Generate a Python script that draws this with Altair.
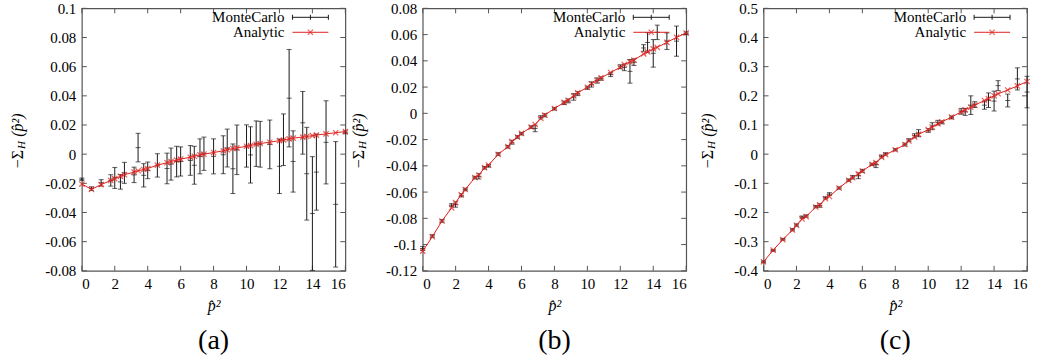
import altair as alt
import pandas as pd

# ---------------- data ----------------
P2 = [0, 0.586, 1.172, 1.757, 2.0, 2.343, 2.586, 3.172, 3.414, 3.757, 4.0,
      4.586, 5.172, 5.414, 5.757, 6.0, 6.586, 6.828, 7.172, 7.414, 8.0,
      8.586, 8.828, 9.172, 9.414, 10.0, 10.243, 10.586, 10.828, 11.414, 12.0,
      12.243, 12.586, 12.828, 13.414, 13.657, 14.0, 14.243, 14.828, 15.414, 16.0]

# panel (a)
A_AN = [-0.0205, -0.0241, -0.0209, -0.0180, -0.0168, -0.0152, -0.0141, -0.0123, -0.0114, -0.0105, -0.0098,
        -0.0075, -0.0059, -0.0050, -0.0041, -0.0034, -0.0021, -0.0014, -0.0004, 0.0000, 0.0011,
        0.0023, 0.0030, 0.0039, 0.0043, 0.0054, 0.0059, 0.0068, 0.0073, 0.0082, 0.0093,
        0.0097, 0.0105, 0.0110, 0.0117, 0.0121, 0.0127, 0.0131, 0.0139, 0.0147, 0.0155]
A_MC = [-0.0172, -0.0236, -0.0197, -0.0180, -0.0163, -0.0190, -0.0128, -0.0142, 0.0045, -0.0145, -0.0111,
        -0.0077, -0.0098, -0.0068, -0.0051, -0.0050, -0.0043, -0.0076, -0.0015, 0.0003, -0.0015,
        -0.0004, 0.0042, -0.0100, 0.0030, 0.0056, -0.0005, 0.0072, 0.0068, 0.0067, -0.0083,
        0.0099, 0.0384, -0.0050, 0.0215, -0.0134, -0.0407, -0.0123, 0.0081, -0.0344, 0.0150]
A_ER = [0.0008, 0.0012, 0.0022, 0.0039, 0.0072, 0.0050, 0.0072, 0.0053, 0.0098, 0.0080, 0.0057,
        0.0080, 0.0105, 0.0110, 0.0105, 0.0100, 0.0102, 0.0130, 0.0120, 0.0114, 0.0120,
        0.0130, 0.0130, 0.0170, 0.0170, 0.0145, 0.0193, 0.0156, 0.0157, 0.0167, 0.0187,
        0.0177, 0.0334, 0.0210, 0.0215, 0.0318, 0.0390, 0.0261, 0.0285, 0.0430, 0.0010]

# panel (b)
B_AN = [-0.105, -0.094, -0.082, -0.072, -0.068, -0.062, -0.058, -0.049, -0.047, -0.0414, -0.0394,
        -0.0313, -0.0254, -0.0216, -0.0181, -0.0153, -0.0105, -0.0085, -0.0039, -0.0014, 0.0037,
        0.0083, 0.0100, 0.0133, 0.0156, 0.0199, 0.0225, 0.0250, 0.0270, 0.0311, 0.0351,
        0.0372, 0.0392, 0.0405, 0.0453, 0.0468, 0.0491, 0.0503, 0.0541, 0.0579, 0.0612]
B_MC = [-0.103, -0.0935, -0.082, -0.070, -0.0695, -0.0625, -0.058, -0.049, -0.048, -0.0415, -0.040,
        -0.031, -0.0255, -0.022, -0.018, -0.0155, -0.0105, -0.0115, -0.003, -0.0015, 0.0035,
        0.008, 0.0095, 0.0125, 0.015, 0.0195, 0.022, 0.025, 0.0265, 0.0295, 0.0355,
        0.035, 0.032, 0.039, 0.0498, 0.054, 0.0457, 0.0617, 0.055, 0.055, 0.061]
B_ER = [0.0015, 0.001, 0.001, 0.0012, 0.002, 0.0012, 0.001, 0.001, 0.002, 0.001, 0.001,
        0.001, 0.001, 0.0015, 0.001, 0.001, 0.001, 0.0025, 0.0012, 0.0012, 0.001,
        0.0013, 0.0015, 0.0025, 0.0015, 0.0012, 0.002, 0.002, 0.0013, 0.0015, 0.0015,
        0.0025, 0.009, 0.0025, 0.0025, 0.0075, 0.0105, 0.0055, 0.0063, 0.0115, 0.001]

# panel (c)
C_AN = [-0.369, -0.329, -0.293, -0.260, -0.244, -0.222, -0.214, -0.181, -0.174, -0.153, -0.145,
        -0.116, -0.090, -0.081, -0.067, -0.058, -0.035, -0.029, -0.011, -0.002, 0.015,
        0.033, 0.045, 0.059, 0.068, 0.084, 0.093, 0.104, 0.111, 0.127, 0.145,
        0.152, 0.161, 0.168, 0.184, 0.191, 0.200, 0.207, 0.220, 0.234, 0.249]
C_MC = [-0.369, -0.330, -0.292, -0.259, -0.243, -0.216, -0.212, -0.180, -0.176, -0.150, -0.137,
        -0.116, -0.089, -0.079, -0.074, -0.057, -0.035, -0.036, -0.008, 0.001, 0.015,
        0.033, 0.048, 0.063, 0.072, 0.081, 0.096, 0.108, 0.109, 0.126, 0.147,
        0.145, 0.168, 0.170, 0.168, 0.185, 0.182, 0.235, 0.184, 0.258, 0.213]
C_ER = [0.003, 0.003, 0.003, 0.004, 0.004, 0.004, 0.004, 0.004, 0.006, 0.004, 0.005,
        0.004, 0.004, 0.006, 0.010, 0.005, 0.004, 0.010, 0.005, 0.004, 0.004,
        0.005, 0.005, 0.007, 0.012, 0.006, 0.012, 0.008, 0.005, 0.005, 0.010,
        0.012, 0.032, 0.010, 0.014, 0.025, 0.034, 0.017, 0.022, 0.038, 0.054]

X_TICKS = [0, 2, 4, 6, 8, 10, 12, 14, 16]
A_YT = [-0.08, -0.06, -0.04, -0.02, 0, 0.02, 0.04, 0.06, 0.08, 0.1]
B_YT = [-0.12, -0.1, -0.08, -0.06, -0.04, -0.02, 0, 0.02, 0.04, 0.06, 0.08]
C_YT = [-0.4, -0.3, -0.2, -0.1, 0, 0.1, 0.2, 0.3, 0.4, 0.5]

# ---------------- style ----------------
FONT = "Liberation Serif"
W, H = 264, 263
FR = "#555555"
BLK = "#1a1a1a"
RED = "#e0201c"
XSHAPE = "M-1,-1L1,1M-1,1L1,-1"
LABEL_EXPR = "replace(format(datum.value, '~g'), '\u2212', '-')"


def panel(an, mc, er, ydom, yticks, caption, tdx, extra=None):
    df = pd.DataFrame({"p2": P2, "an": an, "mc": mc,
                       "lo": [c - e for c, e in zip(mc, er)],
                       "hi": [c + e for c, e in zip(mc, er)]})
    xs = alt.Scale(domain=[0, 16], nice=False, zero=False)
    ys = alt.Scale(domain=ydom, nice=False, zero=False)
    xax = alt.Axis(values=X_TICKS, ticks=False, domain=False, grid=False,
                   labelFont=FONT, labelFontSize=15, labelColor="black", labelPadding=6,
                   title="p\u0302\u00b2", titleFont=FONT, titleFontSize=16, titleFontStyle="italic",
                   titleFontWeight="normal", titleColor="black", titlePadding=6)
    yax = alt.Axis(values=yticks, ticks=False, domain=False, grid=False,
                   labelFont=FONT, labelFontSize=15, labelColor="black", labelPadding=6,
                   labelExpr=LABEL_EXPR, title=None)
    X = alt.X("p2:Q", scale=xs, axis=xax)

    def Y(f):
        return alt.Y(f, type="quantitative", scale=ys, axis=yax)

    base = alt.Chart(df)
    layers = []
    # inward ticks on all four sides
    xt = alt.Chart(pd.DataFrame({"v": X_TICKS}))
    yt = alt.Chart(pd.DataFrame({"v": yticks}))
    XV = alt.X("v:Q", scale=xs, axis=xax)
    layers.append(xt.mark_rule(color=FR, strokeWidth=1).encode(x=XV, y=alt.value(H), y2=alt.value(H - 5)))
    layers.append(xt.mark_rule(color=FR, strokeWidth=1).encode(x=XV, y=alt.value(0), y2=alt.value(5)))
    layers.append(yt.mark_rule(color=FR, strokeWidth=1).encode(y=Y("v"), x=alt.value(0), x2=alt.value(5)))
    layers.append(yt.mark_rule(color=FR, strokeWidth=1).encode(y=Y("v"), x=alt.value(W - 5), x2=alt.value(W)))

    # Monte Carlo error bars
    layers.append(base.mark_rule(color=BLK, strokeWidth=1).encode(x=X, y=Y("lo"), y2="hi:Q"))
    for f in ("lo", "hi", "mc"):
        layers.append(base.mark_tick(orient="horizontal", size=5, thickness=1, color=BLK)
                      .encode(x=X, y=Y(f)))
    # Analytic
    layers.append(base.mark_line(color=RED, strokeWidth=1).encode(x=X, y=Y("an")))
    layers.append(base.mark_point(shape=XSHAPE, size=28, color=RED, filled=False, strokeWidth=1.2)
                  .encode(x=X, y=Y("an")))

    one = alt.Chart(pd.DataFrame({"a": [0]}))
    # legend
    layers.append(one.mark_text(text="MonteCarlo", align="right", baseline="middle", font=FONT,
                                fontSize=15, color="black")
                  .encode(x=alt.value(203), y=alt.value(9)))
    layers.append(one.mark_text(text="Analytic", align="right", baseline="middle", font=FONT,
                                fontSize=15, color="black")
                  .encode(x=alt.value(203), y=alt.value(24)))
    layers.append(one.mark_rule(color=BLK, strokeWidth=1)
                  .encode(x=alt.value(211), x2=alt.value(247), y=alt.value(9)))
    for xv in (211, 229, 247):
        layers.append(one.mark_rule(color=BLK, strokeWidth=1)
                      .encode(x=alt.value(xv), y=alt.value(6.5), y2=alt.value(11.5)))
    layers.append(one.mark_rule(color=RED, strokeWidth=1)
                  .encode(x=alt.value(211), x2=alt.value(247), y=alt.value(24)))
    layers.append(one.mark_point(shape=XSHAPE, size=28, color=RED, filled=False, strokeWidth=1.2)
                  .encode(x=alt.value(229), y=alt.value(24)))

    # y title  -Σ_H (p̂²)
    layers.append(one.mark_text(text="\u2212\u03a3", angle=270, align="center", baseline="middle",
                                font=FONT, fontSize=16, color="black")
                  .encode(x=alt.value(tdx), y=alt.value(151)))
    layers.append(one.mark_text(text="H", angle=270, align="center", baseline="middle",
                                font=FONT, fontSize=11, fontStyle="italic", color="black")
                  .encode(x=alt.value(tdx + 4), y=alt.value(137)))
    layers.append(one.mark_text(text="(p\u0302\u00b2)", angle=270, align="center", baseline="middle",
                                font=FONT, fontSize=16, fontStyle="italic", color="black")
                  .encode(x=alt.value(tdx), y=alt.value(117)))

    # caption
    layers.append(one.mark_text(text=caption, align="center", baseline="middle", font=FONT,
                                fontSize=28, color="black")
                  .encode(x=alt.value(W / 2), y=alt.value(333)))

    if extra is not None:
        layers.append(one.mark_rule(color="white", strokeWidth=1)
                      .encode(x=alt.value(extra), y=alt.value(-6.5), y2=alt.value(355.5)))

    return alt.layer(*layers).properties(width=W, height=H)


pa = panel(A_AN, A_MC, A_ER, [-0.08, 0.1], A_YT, "(a)", -64, extra=-80.5)
pb = panel(B_AN, B_MC, B_ER, [-0.12, 0.08], B_YT, "(b)", -64)
pc = panel(C_AN, C_MC, C_ER, [-0.4, 0.5], C_YT, "(c)", -56, extra=277.5)

chart = (alt.hconcat(pa, pb, pc, spacing=77.5, bounds="flush")
         .properties(padding=0, background="white")
         .configure_view(stroke=FR, strokeWidth=1.2))

chart.save("out.html", embed_options={"renderer": "svg", "actions": False})
